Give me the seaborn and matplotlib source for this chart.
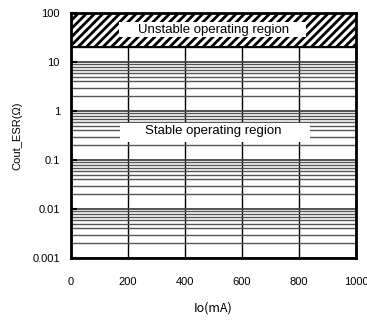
import matplotlib
matplotlib.use("Agg")
import matplotlib.pyplot as plt
import seaborn as sns
import numpy as np
import pandas as pd
from matplotlib.patches import Rectangle

# ---- data ----
io_ticks = [0, 200, 400, 600, 800, 1000]
esr_ticks = [0.001, 0.01, 0.1, 1, 10, 100]
esr_tick_labels = ["0.001", "0.01", "0.1", "1", "10", "100"]
unstable_esr = [20, 100]          # ESR range of unstable region
io_range = [0, 1000]
region_names = ["Unstable operating region", "Stable operating region"]
region_text_io = [500, 500]
region_text_esr = [46, 0.39]
region_box_io = [[168, 825], [172, 839]]
region_box_esr = [[32.4, 65.5], [0.233, 0.569]]

sns.set_theme(style="white")
plt.rcParams['font.family'] = ['Liberation Sans', 'DejaVu Sans']
plt.rcParams['hatch.linewidth'] = 2.0
plt.rcParams['text.color'] = 'black'
plt.rcParams['axes.labelcolor'] = 'black'
plt.rcParams['xtick.color'] = 'black'
plt.rcParams['ytick.color'] = 'black'

fig = plt.figure(figsize=(3.67, 3.2), dpi=100)
ax = fig.add_axes([71/367, 62/320, 285/367, 245/320])

df = pd.DataFrame({"Io": io_range, "low": [unstable_esr[0]]*2, "high": [unstable_esr[1]]*2})
sns.lineplot(data=df, x="Io", y="low", ax=ax, color="black", linewidth=0, legend=False)

ax.set_yscale("log")
ax.set_xlim(io_range)
ax.set_ylim(esr_ticks[0], esr_ticks[-1])

# horizontal grid lines (minor + major)
ax.yaxis.set_minor_locator(matplotlib.ticker.LogLocator(base=10, subs=np.arange(2, 10)))
ax.grid(True, which="major", axis="y", color="#444444", linewidth=1.3)
ax.grid(True, which="minor", axis="y", color="#555555", linewidth=1.0)
ax.grid(True, which="major", axis="x", color="black", linewidth=1.0)
ax.set_axisbelow(True)

# unstable hatch region
ax.fill_between(df["Io"], df["low"], df["high"], facecolor="white", edgecolor="black",
                hatch="////", linewidth=0, zorder=2)
ax.axhline(unstable_esr[0], color="black", linewidth=1.5, zorder=3)

# text boxes
for name, tx, ty, bx, by in zip(region_names, region_text_io, region_text_esr,
                                region_box_io, region_box_esr):
    ax.add_patch(Rectangle((bx[0], by[0]), bx[1]-bx[0], by[1]-by[0],
                           facecolor="white", edgecolor="none", zorder=4))
    ax.text(tx, ty, name, ha="center", va="center", fontsize=9.5, color="black", zorder=5)

ax.set_xticks(io_ticks)
ax.set_xticklabels([str(v) for v in io_ticks])
ax.set_yticks(esr_ticks)
ax.set_yticklabels(esr_tick_labels)
ax.tick_params(axis="x", which="both", length=0, pad=14, labelsize=8)
ax.tick_params(axis="y", which="major", direction="in", length=4, width=1.5,
               color="black", pad=8, labelsize=8, left=True)
ax.tick_params(axis="y", which="minor", length=0)

for s in ax.spines.values():
    s.set_visible(True)
    s.set_color("black")
    s.set_linewidth(2)
    s.set_zorder(6)

ax.set_xlabel("Io(mA)", fontsize=9, family=["Noto Sans CJK JP", "DejaVu Sans"], labelpad=10)
ax.set_ylabel("Cout_ESR(Ω)", fontsize=8, labelpad=7)

fig.savefig("out.png", dpi=100)
